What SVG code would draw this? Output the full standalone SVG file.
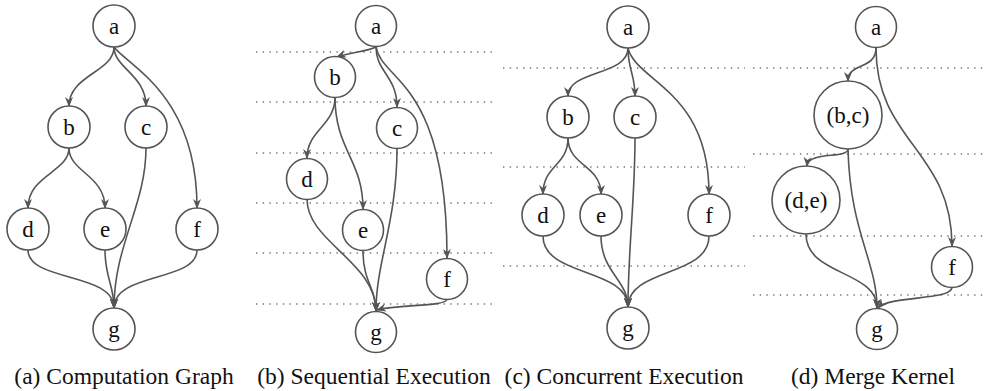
<svg xmlns="http://www.w3.org/2000/svg" width="988" height="391" viewBox="0 0 988 391">
  <defs>
    <marker id="arr" viewBox="0 0 10 10" refX="9" refY="5" markerWidth="10" markerHeight="10" markerUnits="userSpaceOnUse" orient="auto">
      <path d="M0,1 L10,5 L0,9 L3,5 Z" fill="#555"/>
    </marker>
  </defs>
  <style>
    .node circle { fill: #fff; stroke: #555; stroke-width: 1.6; }
    .node text { font-size: 23px; fill: #111; text-anchor: middle; }
    .edges path { fill: none; stroke: #555; stroke-width: 1.6; marker-end: url(#arr); }
    .grid line { stroke: #777; stroke-width: 1.4; stroke-dasharray: 1.4 5.3; }
    .caption { font-size: 23.5px; fill: #111; text-anchor: middle; }
  </style>
  <rect width="988" height="391" fill="#fff"/>

  <!-- step separators -->
  <g class="grid">
    <line x1="256" y1="52" x2="493" y2="52"/>
    <line x1="256" y1="102" x2="493" y2="102"/>
    <line x1="256" y1="153" x2="493" y2="153"/>
    <line x1="256" y1="203" x2="493" y2="203"/>
    <line x1="256" y1="253" x2="493" y2="253"/>
    <line x1="256" y1="304" x2="493" y2="304"/>
    <line x1="503" y1="68" x2="745" y2="68"/>
    <line x1="503" y1="167" x2="745" y2="167"/>
    <line x1="503" y1="266" x2="745" y2="266"/>
    <line x1="753" y1="68" x2="986" y2="68"/>
    <line x1="753" y1="154" x2="986" y2="154"/>
    <line x1="753" y1="236" x2="986" y2="236"/>
    <line x1="753" y1="295" x2="986" y2="295"/>
  </g>

  <!-- connectors -->
  <g class="edges">
    <!-- (a) -->
    <path d="M114,47 C114,72 69,75 69,106"/>
    <path d="M114,47 C114,68 146,75 146,106"/>
    <path d="M114,47 C128,66 197,95 197,208"/>
    <path d="M69,148 C69,172 28,175 28,208"/>
    <path d="M69,148 C69,172 105,175 105,208"/>
    <path d="M146,148 C146,205 114,245 114,308"/>
    <path d="M28,250 C28,282 114,272 114,308"/>
    <path d="M105,250 C105,278 114,285 114,308"/>
    <path d="M197,250 C197,282 114,272 114,308"/>
    <!-- (b) -->
    <path d="M376,47 C366,52 350,52 337,57"/>
    <path d="M376,47 C376,72 397,76 397,107"/>
    <path d="M376,47 C382,82 447,80 447,258"/>
    <path d="M335,97 C335,126 307,130 307,158"/>
    <path d="M335,97 C335,150 363,160 363,209"/>
    <path d="M397,148 C397,222 376,262 376,311"/>
    <path d="M307,199 C307,242 376,262 376,311"/>
    <path d="M363,251 C363,282 376,288 376,311"/>
    <path d="M447,299 C446,307 400,304 377,310"/>
    <!-- (c) -->
    <path d="M628,48 C628,76 568,70 568,96"/>
    <path d="M628,48 C628,70 635,74 635,96"/>
    <path d="M628,48 C636,82 709,90 709,194"/>
    <path d="M568,138 C568,166 543,165 543,194"/>
    <path d="M568,138 C568,166 601,165 601,194"/>
    <path d="M635,138 C635,200 628,250 628,307"/>
    <path d="M543,236 C543,277 628,268 628,307"/>
    <path d="M601,236 C601,272 628,280 628,307"/>
    <path d="M709,236 C709,277 628,268 628,307"/>
    <!-- (d) -->
    <path d="M876,48 C876,70 848,62 848,81"/>
    <path d="M876,48 C876,142 952,150 952,246"/>
    <path d="M848,149 C848,159 808,151 807,166"/>
    <path d="M848,149 C850,232 877,262 877,308"/>
    <path d="M806,234 C806,276 877,270 877,308"/>
    <path d="M952,287 C952,301 890,295 878,308"/>
  </g>

  <g font-family="'Liberation Serif', 'Times New Roman', 'DejaVu Serif', serif">
  <!-- (a) Computation Graph -->
  <g id="a1" class="node"><circle cx="114" cy="26" r="21"/><text x="114" y="34">a</text></g>
  <g id="b1" class="node"><circle cx="69" cy="127" r="21"/><text x="69" y="135">b</text></g>
  <g id="c1" class="node"><circle cx="146" cy="127" r="21"/><text x="146" y="135">c</text></g>
  <g id="d1" class="node"><circle cx="28" cy="229" r="21"/><text x="28" y="237">d</text></g>
  <g id="e1" class="node"><circle cx="105" cy="229" r="21"/><text x="105" y="237">e</text></g>
  <g id="f1" class="node"><circle cx="197" cy="229" r="21"/><text x="197" y="237">f</text></g>
  <g id="g1" class="node"><circle cx="114" cy="329" r="21"/><text x="114" y="337">g</text></g>

  <!-- (b) Sequential Execution -->
  <g id="a2" class="node"><circle cx="376" cy="26" r="20.5"/><text x="376" y="34">a</text></g>
  <g id="b2" class="node"><circle cx="335" cy="77" r="20.5"/><text x="335" y="85">b</text></g>
  <g id="c2" class="node"><circle cx="397" cy="128" r="20.5"/><text x="397" y="136">c</text></g>
  <g id="d2" class="node"><circle cx="307" cy="179" r="20.5"/><text x="307" y="187">d</text></g>
  <g id="e2" class="node"><circle cx="363" cy="230" r="20.5"/><text x="363" y="238">e</text></g>
  <g id="f2" class="node"><circle cx="447" cy="279" r="20.5"/><text x="447" y="287">f</text></g>
  <g id="g2" class="node"><circle cx="376" cy="332" r="20.5"/><text x="376" y="340">g</text></g>

  <!-- (c) Concurrent Execution -->
  <g id="a3" class="node"><circle cx="628" cy="27" r="21"/><text x="628" y="35">a</text></g>
  <g id="b3" class="node"><circle cx="568" cy="117" r="21"/><text x="568" y="125">b</text></g>
  <g id="c3" class="node"><circle cx="635" cy="117" r="21"/><text x="635" y="125">c</text></g>
  <g id="d3" class="node"><circle cx="543" cy="215" r="21"/><text x="543" y="223">d</text></g>
  <g id="e3" class="node"><circle cx="601" cy="215" r="21"/><text x="601" y="223">e</text></g>
  <g id="f3" class="node"><circle cx="709" cy="215" r="21"/><text x="709" y="223">f</text></g>
  <g id="g3" class="node"><circle cx="628" cy="328" r="21"/><text x="628" y="336">g</text></g>

  <!-- (d) Merge Kernel -->
  <g id="a4" class="node"><circle cx="876" cy="27" r="20.5"/><text x="876" y="35">a</text></g>
  <g id="bc4" class="node"><circle cx="848" cy="115" r="34"/><text x="848" y="123">(b,c)</text></g>
  <g id="de4" class="node"><circle cx="806" cy="200" r="34"/><text x="806" y="208">(d,e)</text></g>
  <g id="f4" class="node"><circle cx="952" cy="267" r="20.5"/><text x="952" y="275">f</text></g>
  <g id="g4" class="node"><circle cx="877" cy="329" r="20.5"/><text x="877" y="337">g</text></g>

  <!-- captions -->
  <text class="caption" x="124" y="384">(a) Computation Graph</text>
  <text class="caption" x="374" y="384">(b) Sequential Execution</text>
  <text class="caption" x="624" y="384">(c) Concurrent Execution</text>
  <text class="caption" x="873" y="384">(d) Merge Kernel</text>
  </g>
</svg>
